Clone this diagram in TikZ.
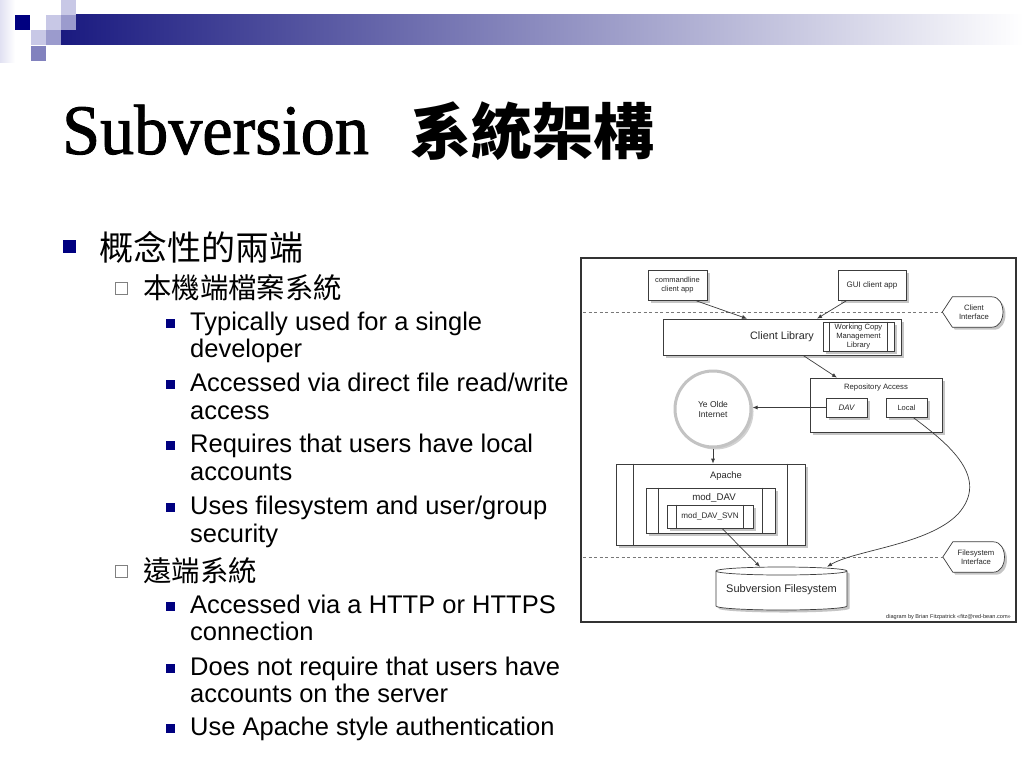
\documentclass[tikz,border=0pt]{standalone}
\usepackage{fontspec}
\setmainfont{Liberation Sans}
\newfontfamily\cjk{Noto Sans CJK TC}
\newfontfamily\titleserif[FakeBold=1.3]{Liberation Serif}
\usetikzlibrary{shadows,arrows.meta,calc}
\newcommand{\myfs}[2]{\fontsize{#1}{#2}\selectfont}
\definecolor{slnavy}{RGB}{0,0,128}
\definecolor{barnavy}{RGB}{26,26,128}
\definecolor{barmid}{RGB}{175,175,198}
\definecolor{lav}{RGB}{200,200,230}
\definecolor{lavmid}{RGB}{155,155,205}
\definecolor{lavdark}{RGB}{130,130,190}
\definecolor{hollow}{RGB}{128,128,128}
\definecolor{dline}{RGB}{60,60,60}
\definecolor{dtext}{RGB}{40,40,40}
\definecolor{netgray}{RGB}{195,195,195}
\definecolor{dashgray}{RGB}{120,120,120}
\tikzset{
  shad/.style={drop shadow={shadow xshift=2.5pt, shadow yshift=-2.5pt, fill=black!45, opacity=0.5}},
  box/.style={draw=dline, fill=white, line width=0.7pt, inner sep=0pt, align=center, text=dtext, shad},
  lbl/.style={inner sep=0pt, align=center, text=dtext},
  arr/.style={draw=dline, line width=0.7pt, -{Latex[length=5pt,width=4pt]}},
  dashline/.style={draw=dashgray, line width=0.8pt, dash pattern=on 3pt off 2.5pt},
  tagline/.style={draw=dline, fill=white, line width=0.7pt, shad},
  bigsq/.style={fill=slnavy, minimum size=13pt, inner sep=0pt},
  hollowsq/.style={draw=hollow, line width=0.8pt, minimum size=12pt, inner sep=0pt},
  smallsq/.style={fill=slnavy, minimum size=9pt, inner sep=0pt},
  lthree/.style={anchor=base west, inner sep=0pt, font=\myfs{25.5}{28}},
}
\begin{document}
\begin{tikzpicture}[x=1pt,y=-1pt]
\useasboundingbox (0,0) rectangle (1024,768);
\fill[white] (0,0) rectangle (1024,768);
% header decoration
\shade[left color={rgb,255:red,225;green,225;blue,242}, right color=white] (0,0) rectangle (15,62);
\shade[left color=barnavy, middle color=barmid, right color=white] (61,15) rectangle (1024,45);
\fill[slnavy] (15,15) rectangle (30,30);
\fill[lav] (46,15) rectangle (61,30);
\fill[lavmid] (61,15) rectangle (76,30);
\fill[lav] (61,0) rectangle (76,15);
\fill[lav] (31,30) rectangle (46,45);
\fill[lavmid] (46,30) rectangle (61,45);
\fill[lavdark] (31,46) rectangle (46,61);
% title
\node[anchor=base west, inner sep=0pt, font=\titleserif\myfs{71}{71}] (title) at (62,154) {\scalebox{0.96}[1]{Subversion}};
\node[anchor=west, inner sep=0pt, font=\cjk\bfseries\myfs{61}{61}] (titlecjk) at (410,131) {系統架構};
% bullets
\node[bigsq] (b1) at (69.5,246.5) {};
\node[anchor=west, inner sep=0pt, font=\cjk\myfs{34}{34}] (t1) at (99,247) {概念性的兩端};
\node[hollowsq] (b2) at (121.5,288.5) {};
\node[anchor=west, inner sep=0pt, font=\cjk\myfs{28.4}{28.4}] (t2) at (143,288) {本機端檔案系統};
\node[smallsq] (b3) at (170.5,323.5) {};
\node[lthree] (t3a) at (190,330) {Typically used for a single};
\node[lthree] (t3b) at (190,357.5) {developer};
\node[smallsq] (b4) at (170.5,384.5) {};
\node[lthree] (t4a) at (190,391) {Accessed via direct file read/write};
\node[lthree] (t4b) at (190,419) {access};
\node[smallsq] (b5) at (170.5,445.5) {};
\node[lthree] (t5a) at (190,452) {Requires that users have local};
\node[lthree] (t5b) at (190,480) {accounts};
\node[smallsq] (b6) at (170.5,507.5) {};
\node[lthree] (t6a) at (190,514) {Uses filesystem and user/group};
\node[lthree] (t6b) at (190,542) {security};
\node[hollowsq] (b7) at (121.5,571) {};
\node[anchor=west, inner sep=0pt, font=\cjk\myfs{28.4}{28.4}] (t7) at (143,571) {遠端系統};
\node[smallsq] (b8) at (170.5,606.5) {};
\node[lthree] (t8a) at (190,613) {Accessed via a HTTP or HTTPS};
\node[lthree] (t8b) at (190,640) {connection};
\node[smallsq] (b9) at (170.5,668.5) {};
\node[lthree] (t9a) at (190,675) {Does not require that users have};
\node[lthree] (t9b) at (190,702) {accounts on the server};
\node[smallsq] (b10) at (170.5,728.5) {};
\node[lthree] (t10a) at (190,735) {Use Apache style authentication};
% diagram frame
\node[draw=black!80, line width=1.6pt, minimum width=435pt, minimum height=364pt, inner sep=0pt] (frame) at (798.5,440) {};
% interface lines
\node[lbl, minimum width=61pt, minimum height=30pt, font=\myfs{7.7}{9}] (citag) at (973,312) {};
\draw[tagline] (citag.west) -- ($(citag.north west)+(10,0)$) -- ($(citag.north east)+(-12,0)$) .. controls ($(citag.north east)+(3,0)$) and ($(citag.south east)+(3,0)$) .. ($(citag.south east)+(-12,0)$) -- ($(citag.south west)+(10,0)$) -- cycle;
\node[lbl, font=\myfs{7.7}{9}] (citext) at (974,312) {Client\\Interface};
\coordinate (cil) at (583,312);
\draw[dashline] (cil) -- (citag.west);
\node[lbl, minimum width=62pt, minimum height=30pt] (fitag) at (974,557) {};
\draw[tagline] (fitag.west) -- ($(fitag.north west)+(10,0)$) -- ($(fitag.north east)+(-12,0)$) .. controls ($(fitag.north east)+(3,0)$) and ($(fitag.south east)+(3,0)$) .. ($(fitag.south east)+(-12,0)$) -- ($(fitag.south west)+(10,0)$) -- cycle;
\node[lbl, font=\myfs{7.7}{9}] (fitext) at (976,557) {Filesystem\\Interface};
\coordinate (fil) at (583,557);
\draw[dashline] (fil) -- (fitag.west);
% client apps
\node[box, minimum width=59pt, minimum height=30pt, font=\myfs{7.5}{9}] (cmd) at (677.5,285) {commandline\\client app};
\node[box, minimum width=68pt, minimum height=30pt, font=\myfs{8}{9}] (gui) at (872,285) {GUI client app};
% client library
\node[box, minimum width=238pt, minimum height=36pt] (clib) at (782,337) {};
\node[lbl, font=\myfs{10.8}{12}] (clibtext) at (782,337) {Client Library};
\node[box, minimum width=71pt, minimum height=29pt, font=\myfs{7.6}{9}] (wc) at (858.5,336.5) {Working Copy\\Management\\Library};
\draw[draw=dline, line width=0.7pt] ($(wc.north west)+(7,0)$) -- ($(wc.south west)+(7,0)$);
\draw[draw=dline, line width=0.7pt] ($(wc.north east)+(-7,0)$) -- ($(wc.south east)+(-7,0)$);
% repository access
\node[box, minimum width=132pt, minimum height=54pt] (ra) at (876,405) {};
\node[lbl, font=\myfs{7.7}{9}] (ratext) at (876,388) {Repository Access};
\node[box, minimum width=41pt, minimum height=19pt, font=\itshape\myfs{8}{9}] (dav) at (846.5,407.5) {DAV};
\node[box, minimum width=41pt, minimum height=19pt, font=\myfs{7.5}{9}] (local) at (906.5,407.5) {Local};
% internet
\node[circle, draw=netgray, line width=3pt, fill=white, minimum size=76pt, inner sep=0pt, align=center, text=dtext, font=\myfs{8.5}{10}, drop shadow={shadow xshift=2.5pt, shadow yshift=-2.5pt, fill=black!35, opacity=0.5}] (net) at (713,409) {Ye Olde\\Internet};
% apache
\node[box, minimum width=189pt, minimum height=81pt] (apache) at (710.5,504.5) {};
\draw[draw=dline, line width=0.7pt] ($(apache.north west)+(18,0)$) -- ($(apache.south west)+(18,0)$);
\draw[draw=dline, line width=0.7pt] ($(apache.north east)+(-18,0)$) -- ($(apache.south east)+(-18,0)$);
\node[lbl, font=\myfs{9.4}{10}] (apachetext) at (726,476) {Apache};
\node[box, minimum width=129pt, minimum height=45pt] (moddav) at (710.5,510.5) {};
\draw[draw=dline, line width=0.7pt] ($(moddav.north west)+(13,0)$) -- ($(moddav.south west)+(13,0)$);
\draw[draw=dline, line width=0.7pt] ($(moddav.north east)+(-13,0)$) -- ($(moddav.south east)+(-13,0)$);
\node[lbl, font=\myfs{9.7}{10}] (moddavtext) at (714,497.5) {mod\_DAV};
\node[box, minimum width=86pt, minimum height=23pt, font=\myfs{8.1}{9}] (svn) at (710,516.5) {mod\_DAV\_SVN};
\draw[draw=dline, line width=0.7pt] ($(svn.north west)+(10,0)$) -- ($(svn.south west)+(10,0)$);
\draw[draw=dline, line width=0.7pt] ($(svn.north east)+(-10,0)$) -- ($(svn.south east)+(-10,0)$);
% filesystem cylinder
\node[lbl, minimum width=131pt, minimum height=43pt] (fs) at (781.5,588.5) {};
\fill[black!45, opacity=0.5] (718.5,573.5) -- (718.5,608.5) arc[start angle=180, end angle=360, x radius=65.5pt, y radius=4pt] -- (849.5,573.5) arc[start angle=0, end angle=180, x radius=65.5pt, y radius=4pt] -- cycle;
\draw[draw=dline, fill=white, line width=0.7pt] (716,571) -- (716,606) arc[start angle=180, end angle=360, x radius=65.5pt, y radius=4pt] -- (847,571) arc[start angle=0, end angle=180, x radius=65.5pt, y radius=4pt] -- cycle;
\draw[draw=dline, line width=0.7pt] (716,571) arc[start angle=180, end angle=360, x radius=65.5pt, y radius=4pt];
\node[lbl, font=\myfs{11}{12}] (fstext) at (781.5,590) {Subversion Filesystem};
% connectors
\draw[arr] ($(cmd.south)+(17.5,0)$) -- ($(clib.north)+(-35,0)$);
\draw[arr] ($(gui.south)+(-25,0)$) -- ($(clib.north)+(35,0)$);
\draw[arr] ($(clib.south)+(21,0)$) -- ($(ra.north)+(-39,0)$);
\draw[arr] (dav.west) -- (dav.west -| net.east);
\draw[arr] (net.south) -- (net.south |- apache.north);
\draw[arr] ($(svn.south)+(12,0)$) -- ($(fs.north)+(-21.5,0)$);
\draw[arr] ($(local.south)+(6.5,0)$) .. controls (950,445) and (990,478) .. (958,514) .. controls (928,545) and (855,550) .. ($(fs.north)+(45.5,0)$);
% credit
\node[anchor=east, inner sep=0pt, text=dtext, font=\myfs{5.6}{6}] (credit) at (1011,617) {diagram by Brian Fitzpatrick «fitz@red-bean.com»};
\end{tikzpicture}
\end{document}
